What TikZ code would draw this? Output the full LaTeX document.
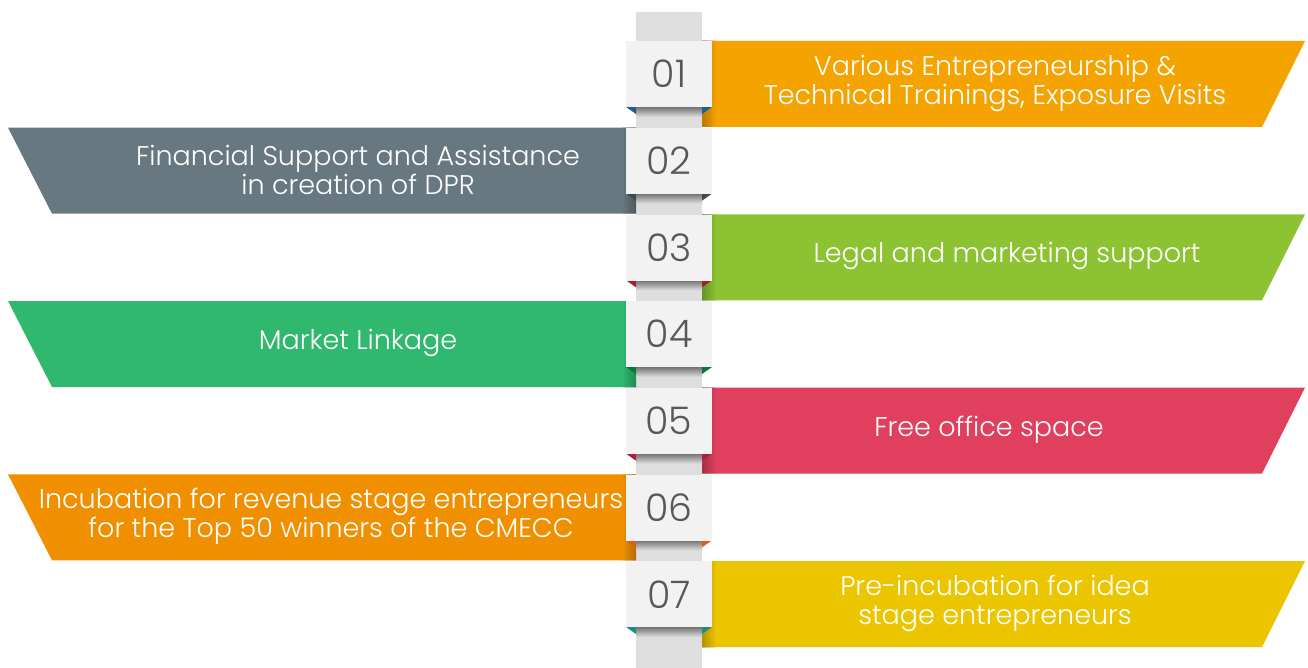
\documentclass[tikz,border=0pt]{standalone}
\usepackage{fontspec}
\IfFontExistsTF{Poppins Light}{\setmainfont{Poppins Light}}{\setmainfont{Poppins}}

\definecolor{column}{HTML}{DEDEDE}
\definecolor{boxfill}{HTML}{F2F2F2}
\definecolor{numgray}{HTML}{585858}
\definecolor{bannerA}{HTML}{F5A300}
\definecolor{bannerB}{HTML}{687880}
\definecolor{bannerC}{HTML}{8DC332}
\definecolor{bannerD}{HTML}{2FB86E}
\definecolor{bannerE}{HTML}{E0405E}
\definecolor{bannerF}{HTML}{F09000}
\definecolor{bannerG}{HTML}{EBC500}
\definecolor{foldA}{HTML}{1F5C99}
\definecolor{foldB}{HTML}{3E4A52}
\definecolor{foldC}{HTML}{A31F2A}
\definecolor{foldD}{HTML}{0D7538}
\definecolor{foldE}{HTML}{A8213F}
\definecolor{foldF}{HTML}{E65A1E}
\definecolor{foldG}{HTML}{1E8C80}

\tikzset{
  bannertext/.style={text=white, align=center, font=\fontsize{27}{29}\selectfont},
  numbox/.style={fill=boxfill, minimum width=86pt, minimum height=66pt, inner sep=0pt,
    text=numgray, font=\fontsize{38}{38}\selectfont},
}

\begin{document}
\begin{tikzpicture}[x=1pt,y=-1pt]
  \useasboundingbox (0,0) rectangle (1308,668);

  % grey spine
  \fill[column] (636,12) rectangle (702,668);

  \foreach \i/\col/\fold/\tx/\txt in {
      1/bannerA/foldA/995/{Various Entrepreneurship \&\\Technical Trainings, Exposure Visits},
      2/bannerB/foldB/358/{Financial Support and Assistance\\in creation of DPR},
      3/bannerC/foldC/1007/{Legal and marketing support},
      4/bannerD/foldD/358/{Market Linkage},
      5/bannerE/foldE/989/{Free office space},
      6/bannerF/foldF/331/{Incubation for revenue stage entrepreneurs\\for the Top 50 winners of the CMECC},
      7/bannerG/foldG/995/{Pre-incubation for idea\\stage entrepreneurs}} {
    \pgfmathsetmacro\top{41+(\i-1)*86.67}
    % banner
    \ifodd\i
      \fill[\col] (702,\top) -- (1305,\top) -- (1262,\top+86) -- (702,\top+86) -- cycle;
      \shade[left color=black, right color=\col, opacity=0.25] (702,\top) rectangle (716,\top+86);
    \else
      \fill[\col] (8,\top) -- (636,\top) -- (636,\top+86) -- (52,\top+86) -- cycle;
      \shade[left color=\col, right color=black, opacity=0.25] (622,\top) rectangle (636,\top+86);
    \fi
    \node[bannertext] (t\i) at (\tx,\top+42) {\txt};
    % shadow under the box
    \shade[top color=black!55, bottom color=column] (636,\top+66) rectangle (702,\top+76);
    % folds
    \fill[\fold] (626,\top+66) -- (636,\top+66) -- (636,\top+73) -- cycle;
    \fill[\fold] (702,\top+66) -- (712,\top+66) -- (702,\top+73) -- cycle;
    % number box
    \node[numbox, anchor=north] (n\i) at (669,\top) {0\i};
  }
\end{tikzpicture}
\end{document}
